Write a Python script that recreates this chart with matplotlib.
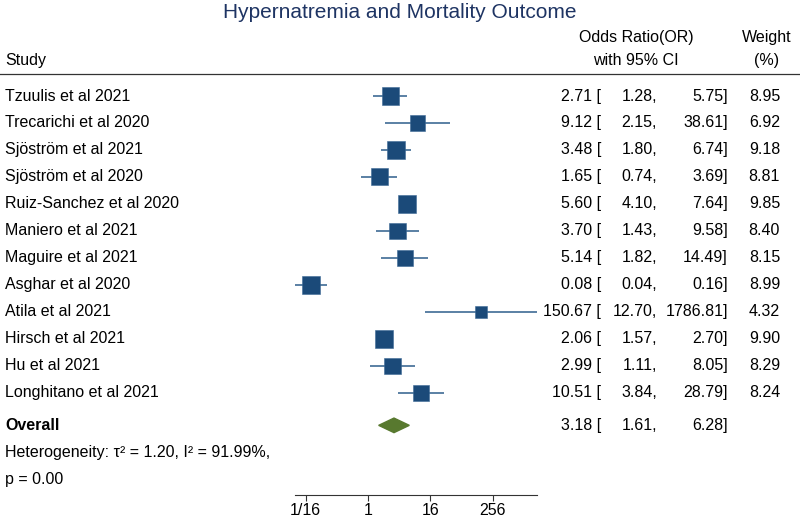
import matplotlib
matplotlib.use("Agg")
import matplotlib.pyplot as plt
import matplotlib.transforms as mtransforms
from matplotlib.lines import Line2D

plt.rcParams["font.family"] = ["Liberation Sans", "DejaVu Sans"]

studies = ["Tzuulis et al 2021", "Trecarichi et al 2020", "Sjöström et al 2021",
           "Sjöström et al 2020", "Ruiz-Sanchez et al 2020", "Maniero et al 2021",
           "Maguire et al 2021", "Asghar et al 2020", "Atila et al 2021",
           "Hirsch et al 2021", "Hu et al 2021", "Longhitano et al 2021"]
odds = [2.71, 9.12, 3.48, 1.65, 5.60, 3.70, 5.14, 0.08, 150.67, 2.06, 2.99, 10.51]
lower = [1.28, 2.15, 1.80, 0.74, 4.10, 1.43, 1.82, 0.04, 12.70, 1.57, 1.11, 3.84]
upper = [5.75, 38.61, 6.74, 3.69, 7.64, 9.58, 14.49, 0.16, 1786.81, 2.70, 8.05, 28.79]
weights = [8.95, 6.92, 9.18, 8.81, 9.85, 8.40, 8.15, 8.99, 4.32, 9.90, 8.29, 8.24]
overall = (3.18, 1.61, 6.28)
tick_vals = [1 / 16, 1, 16, 256]
tick_labels = ["1/16", "1", "16", "256"]

W, H = 800, 518
fig = plt.figure(figsize=(8, 5.18), dpi=100)
# plot area: x from 295px to 537px, y from the header rule (74px) to the axis (495px)
ax = fig.add_axes([295 / W, 1 - 495 / H, (537 - 295) / W, (495 - 74) / H])
ax.set_xscale("log", base=2)
ax.set_xlim(min(lower) * 0.98, max(upper) * 1.02)
ax.set_ylim(14.78, -0.815)

box_color = "#1b4a79"
line_color = "#2e5e8c"
fs = 11.5

rows = list(range(len(studies)))
ax.hlines(rows, lower, upper, color=line_color, linewidth=1.1, zorder=2)
ax.scatter(odds, rows, marker="s", s=[17 * w for w in weights],
           color=box_color, edgecolors="#3d6a96", linewidths=0.4, zorder=3)

y_over = 12.2
est, lo, hi = overall
ax.fill([lo, est, hi, est], [y_over, y_over - 0.27, y_over, y_over + 0.27],
        color="#58792f", zorder=3)

for side in ["top", "right", "left"]:
    ax.spines[side].set_visible(False)
ax.spines["bottom"].set_color("#333333")
ax.spines["bottom"].set_linewidth(0.8)
ax.set_yticks([])
ax.set_xticks(tick_vals)
ax.set_xticklabels(tick_labels)
ax.minorticks_off()
ax.tick_params(axis="x", direction="out", length=4, width=0.8, color="#333333",
               labelsize=fs, pad=2)

tr = mtransforms.blended_transform_factory(fig.transFigure, ax.transData)


def px(x):
    return x / W


# title and header
fig.text(0.5, 1 - 12 / H, "Hypernatremia and Mortality Outcome", ha="center",
         va="center", fontsize=15, color="#1e3463")
ax.text(px(5), -1.33, "Study", transform=tr, ha="left", va="center", fontsize=fs)
ax.text(px(636), -2.15, "Odds Ratio(OR)", transform=tr, ha="center", va="center", fontsize=fs)
ax.text(px(636), -1.33, "with 95% CI", transform=tr, ha="center", va="center", fontsize=fs)
ax.text(px(767), -2.15, "Weight", transform=tr, ha="center", va="center", fontsize=fs)
ax.text(px(767), -1.33, "(%)", transform=tr, ha="center", va="center", fontsize=fs)
fig.add_artist(Line2D([0, 1], [1 - 74 / H, 1 - 74 / H], color="#333333", linewidth=0.9))

# study rows
for i, name in enumerate(studies):
    ax.text(px(5), i, name, transform=tr, ha="left", va="center", fontsize=fs)
    ax.text(px(601), i, f"{odds[i]:.2f} [", transform=tr, ha="right", va="center", fontsize=fs)
    ax.text(px(657), i, f"{lower[i]:.2f},", transform=tr, ha="right", va="center", fontsize=fs)
    ax.text(px(728), i, f"{upper[i]:.2f}]", transform=tr, ha="right", va="center", fontsize=fs)
    ax.text(px(780), i, f"{weights[i]:.2f}", transform=tr, ha="right", va="center", fontsize=fs)

ax.text(px(5), y_over, "Overall", transform=tr, ha="left", va="center",
        fontsize=fs, fontweight="bold")
ax.text(px(601), y_over, f"{est:.2f} [", transform=tr, ha="right", va="center", fontsize=fs)
ax.text(px(657), y_over, f"{lo:.2f},", transform=tr, ha="right", va="center", fontsize=fs)
ax.text(px(728), y_over, f"{hi:.2f}]", transform=tr, ha="right", va="center", fontsize=fs)

ax.text(px(5), 13.2, "Heterogeneity: τ² = 1.20, I² = 91.99%,", transform=tr,
        ha="left", va="center", fontsize=fs)
ax.text(px(5), 14.2, "p = 0.00", transform=tr, ha="left", va="center", fontsize=fs)

fig.savefig("out.png", dpi=100)
